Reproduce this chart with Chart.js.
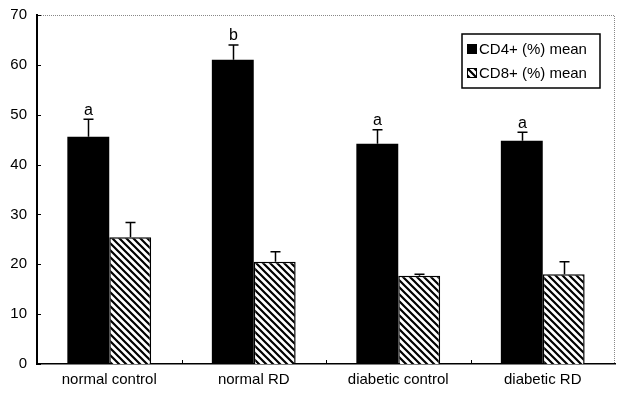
<!DOCTYPE html>
<html>
<head>
<meta charset="utf-8">
<script src="https://cdn.jsdelivr.net/npm/chart.js@4/dist/chart.umd.min.js"></script>
<style>
  html, body { margin: 0; padding: 0; background: #fff; }
  #wrap { width: 621px; height: 405px; }
</style>
</head>
<body>
<div id="wrap"><canvas id="grafica"></canvas></div>
<script>
const categorias = ['normal control', 'normal RD', 'diabetic control', 'diabetic RD'];
const cd4_media = [45.6, 61.0, 44.2, 44.8];
const cd4_error = [3.5, 3.0, 2.8, 1.7];
const cd8_media = [25.4, 20.5, 17.7, 18.0];
const cd8_error = [3.0, 2.0, 0.3, 2.5];
const letras = ['a', 'b', 'a', 'a'];
const ticks_y = [0, 10, 20, 30, 40, 50, 60, 70];

const fuente = '"Liberation Sans", Arial, sans-serif';

// rayado diagonal para CD8
function rayado() {
  const c = document.createElement('canvas');
  c.width = 7; c.height = 7;
  const g = c.getContext('2d');
  g.fillStyle = '#fff';
  g.fillRect(0, 0, 7, 7);
  g.strokeStyle = '#000';
  g.lineWidth = 2.2;
  g.beginPath();
  g.moveTo(-1, -1); g.lineTo(8, 8);
  g.moveTo(-8, -1); g.lineTo(1, 8);
  g.moveTo(6, -1); g.lineTo(15, 8);
  g.stroke();
  return g.createPattern(c, 'repeat');
}
const patron = rayado();

const extras = {
  id: 'extras',
  afterDatasetsDraw(chart) {
    const ctx = chart.ctx;
    const y = chart.scales.y;
    const a = chart.chartArea;
    ctx.save();
    // marco superior y derecho
    ctx.strokeStyle = '#888';
    ctx.lineWidth = 1;
    ctx.setLineDash([1, 1]);
    ctx.beginPath();
    ctx.moveTo(a.left, a.top + 0.5); ctx.lineTo(a.right - 0.5, a.top + 0.5); ctx.lineTo(a.right - 0.5, a.bottom);
    ctx.stroke();
    ctx.setLineDash([]);
    // marcas del eje y hacia dentro
    ctx.strokeStyle = '#000';
    ticks_y.forEach(v => {
      const py = Math.round(y.getPixelForValue(v)) + 0.5;
      ctx.beginPath(); ctx.moveTo(a.left, py); ctx.lineTo(a.left + 4, py); ctx.stroke();
    });
    // marcas entre categorias
    const xs = chart.scales.x;
    for (let i = 1; i < categorias.length; i++) {
      const px = Math.round((xs.getPixelForValue(i - 1) + xs.getPixelForValue(i)) / 2) + 0.5;
      ctx.beginPath(); ctx.moveTo(px, a.bottom); ctx.lineTo(px, a.bottom - 4); ctx.stroke();
    }
    // barras de error y letras
    const errores = [cd4_error, cd8_error];
    ctx.lineWidth = 1.5;
    [0, 1].forEach(d => {
      const meta = chart.getDatasetMeta(d);
      const datos = chart.data.datasets[d].data;
      meta.data.forEach((bar, i) => {
        const x = Math.round(bar.x) + 0.5;
        const top = y.getPixelForValue(datos[i] + errores[d][i]);
        ctx.beginPath();
        ctx.moveTo(x, bar.y); ctx.lineTo(x, top);
        ctx.moveTo(x - 5, top); ctx.lineTo(x + 5, top);
        ctx.stroke();
        if (d === 0) {
          ctx.fillStyle = '#000';
          ctx.font = '16px ' + fuente;
          ctx.textAlign = 'center';
          ctx.textBaseline = 'bottom';
          ctx.fillText(letras[i], x, top - 1);
        }
      });
    });
    // leyenda con recuadro
    const lx = a.right - 153, ly = a.top + 19;
    ctx.lineWidth = 1.5;
    ctx.strokeRect(lx, ly, 138, 54);
    const items = [{ t: 'CD4+ (%) mean', f: '#000' }, { t: 'CD8+ (%) mean', f: patron }];
    ctx.font = '15px ' + fuente;
    ctx.textAlign = 'left';
    ctx.textBaseline = 'middle';
    items.forEach((it, k) => {
      const cy = ly + 15 + k * 24;
      ctx.fillStyle = it.f;
      ctx.fillRect(lx + 5, cy - 5, 10, 10);
      ctx.lineWidth = 1;
      ctx.strokeRect(lx + 5.5, cy - 4.5, 9, 9);
      ctx.fillStyle = '#000';
      ctx.fillText(it.t, lx + 17, cy + 1);
    });
    ctx.restore();
  }
};

new Chart(document.getElementById('grafica').getContext('2d'), {
  type: 'bar',
  data: {
    labels: categorias,
    datasets: [
      {
        label: 'CD4+ (%) mean',
        data: cd4_media,
        backgroundColor: '#000',
        borderColor: '#000',
        borderWidth: 0,
        categoryPercentage: 0.58,
        barPercentage: 1.0
      },
      {
        label: 'CD8+ (%) mean',
        data: cd8_media,
        backgroundColor: patron,
        borderColor: '#000',
        borderWidth: 1.5,
        borderSkipped: 'bottom',
        categoryPercentage: 0.58,
        barPercentage: 1.0
      }
    ]
  },
  options: {
    responsive: true,
    maintainAspectRatio: false,
    animation: false,
    layout: { padding: { left: 0, right: 6, top: 15, bottom: 0 } },
    plugins: {
      legend: { display: false },
      tooltip: { enabled: false }
    },
    scales: {
      x: {
        grid: { display: false, drawTicks: false },
        border: { color: '#000', width: 1.5 },
        ticks: { color: '#000', padding: 7, font: { family: fuente, size: 15 } },
        afterFit(s) { s.height = 41; }
      },
      y: {
        min: 0,
        max: 70,
        afterBuildTicks(s) { s.ticks = ticks_y.map(v => ({ value: v })); },
        grid: { display: false, drawTicks: false },
        border: { color: '#000', width: 2 },
        ticks: { color: '#000', padding: 10, font: { family: fuente, size: 15 } },
        afterFit(s) { s.width = 37; s.paddingTop = 0; s.paddingBottom = 0; }
      }
    }
  },
  plugins: [extras]
});
</script>
</body>
</html>
